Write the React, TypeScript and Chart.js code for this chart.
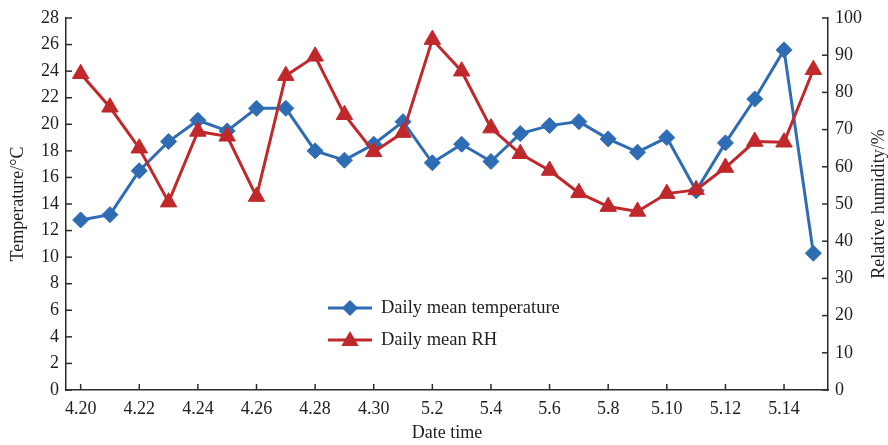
import React, { useEffect, useRef } from "react";
import { Chart, registerables } from "chart.js";

Chart.register(...registerables);

// ---- data ----
const dates = [
  "4.20", "4.21", "4.22", "4.23", "4.24", "4.25", "4.26", "4.27", "4.28", "4.29", "4.30",
  "5.1", "5.2", "5.3", "5.4", "5.5", "5.6", "5.7", "5.8", "5.9", "5.10", "5.11", "5.12", "5.13", "5.14", "5.15",
];
const tempValues = [
  12.8, 13.2, 16.5, 18.7, 20.3, 19.5, 21.2, 21.2, 18.0, 17.3, 18.5,
  20.2, 17.1, 18.5, 17.2, 19.3, 19.9, 20.2, 18.9, 17.9, 19.0, 15.0, 18.6, 21.9, 25.6, 10.3,
];
const rhValues = [
  85, 76, 65, 50.5, 69.5, 68.2, 52, 84.5, 89.7, 74, 64,
  69.2, 94.2, 85.7, 70.4, 63.5, 59, 53, 49.3, 48, 52.8, 53.8, 59.8, 66.8, 66.6, 86.1,
];
const tempTickValues = [0, 2, 4, 6, 8, 10, 12, 14, 16, 18, 20, 22, 24, 26, 28];
const rhTickValues = [0, 10, 20, 30, 40, 50, 60, 70, 80, 90, 100];

const tempLabel = "Daily mean temperature";
const rhLabel = "Daily mean RH";
const xTitle = "Date time";
const yLeftTitle = "Temperature/°C";
const yRightTitle = "Relative humidity/%";

// ---- styles ----
const FONT = "'Liberation Serif', 'Times New Roman', serif";
const TEXT = "#1e1e1e";
const AXIS = "#2b2b2b";
const BLUE = "#2e6db4";
const RED = "#c0282b";

function drawDiamond(ctx: CanvasRenderingContext2D, x: number, y: number, r: number) {
  ctx.beginPath();
  ctx.moveTo(x, y - r);
  ctx.lineTo(x + r, y);
  ctx.lineTo(x, y + r);
  ctx.lineTo(x - r, y);
  ctx.closePath();
  ctx.fill();
}

function drawTriangle(ctx: CanvasRenderingContext2D, x: number, y: number, r: number) {
  ctx.beginPath();
  for (let k = 0; k < 3; k++) {
    const a = (k * 2 * Math.PI) / 3;
    const px = x + Math.sin(a) * r;
    const py = y - Math.cos(a) * r;
    if (k === 0) ctx.moveTo(px, py);
    else ctx.lineTo(px, py);
  }
  ctx.closePath();
  ctx.fill();
}

const decorPlugin = {
  id: "decor",
  afterDraw(chart: any) {
    const { ctx, chartArea: a, scales } = chart;
    ctx.save();
    ctx.strokeStyle = AXIS;
    ctx.lineWidth = 1.5;
    const seg = (x1: number, y1: number, x2: number, y2: number) => {
      ctx.beginPath();
      ctx.moveTo(x1, y1);
      ctx.lineTo(x2, y2);
      ctx.stroke();
    };
    dates.forEach((_, i) => {
      if (i % 2 !== 0 || i === dates.length - 1) return;
      const x = scales.x.getPixelForValue(i);
      seg(x, a.bottom, x, a.bottom - 6);
    });
    tempTickValues.forEach((v) => {
      const y = scales.yT.getPixelForValue(v);
      seg(a.left, y, a.left + 6, y);
    });
    rhTickValues.forEach((v) => {
      const y = scales.yRH.getPixelForValue(v);
      seg(a.right - 6, y, a.right, y);
    });

    // titles
    ctx.fillStyle = TEXT;
    ctx.font = `18px ${FONT}`;
    ctx.textAlign = "center";
    ctx.textBaseline = "middle";
    const cy = (a.top + a.bottom) / 2;
    ctx.save();
    ctx.translate(18, cy);
    ctx.rotate(-Math.PI / 2);
    ctx.fillText(yLeftTitle, 0, 0);
    ctx.restore();
    ctx.save();
    ctx.translate(879, cy);
    ctx.rotate(-Math.PI / 2);
    ctx.fillText(yRightTitle, 0, 0);
    ctx.restore();
    ctx.fillText(xTitle, (a.left + a.right) / 2, 433);

    // legend
    const items = [
      { label: tempLabel, color: BLUE, shape: "diamond", y: 308 },
      { label: rhLabel, color: RED, shape: "triangle", y: 340 },
    ];
    items.forEach((it) => {
      ctx.strokeStyle = it.color;
      ctx.fillStyle = it.color;
      ctx.lineWidth = 3;
      seg(328, it.y, 372, it.y);
      if (it.shape === "diamond") drawDiamond(ctx, 350, it.y, 8);
      else drawTriangle(ctx, 350, it.y + 1, 10);
      ctx.fillStyle = TEXT;
      ctx.textAlign = "left";
      ctx.font = `18.5px ${FONT}`;
      ctx.fillText(it.label, 381, it.y);
    });
    ctx.restore();
  },
};

export default function App() {
  const ref = useRef<HTMLCanvasElement | null>(null);

  useEffect(() => {
    if (!ref.current) return;
    const tickFont = { family: FONT, size: 18 };
    const chart = new Chart(ref.current, {
      type: "line",
      data: {
        labels: dates,
        datasets: [
          {
            label: tempLabel,
            data: tempValues,
            yAxisID: "yT",
            borderColor: BLUE,
            backgroundColor: BLUE,
            borderWidth: 3,
            pointStyle: "rectRot",
            pointRadius: 8,
            pointBorderWidth: 1,
            pointBackgroundColor: BLUE,
            pointBorderColor: BLUE,
            tension: 0,
            order: 1,
          },
          {
            label: rhLabel,
            data: rhValues,
            yAxisID: "yRH",
            borderColor: RED,
            backgroundColor: RED,
            borderWidth: 3,
            pointStyle: "triangle",
            pointRadius: 9.5,
            pointBorderWidth: 1,
            pointBackgroundColor: RED,
            pointBorderColor: RED,
            tension: 0,
            order: 0,
          },
        ],
      },
      options: {
        animation: false,
        responsive: false,
        layout: { padding: { top: 18, left: 0, right: 0, bottom: 0 } },
        plugins: {
          legend: { display: false },
          tooltip: { enabled: false },
          title: { display: false },
        },
        scales: {
          x: {
            type: "category",
            offset: true,
            grid: { display: false, drawTicks: false },
            border: { display: true, color: AXIS, width: 1.5 },
            ticks: {
              autoSkip: false,
              maxRotation: 0,
              minRotation: 0,
              padding: 8,
              color: TEXT,
              font: tickFont,
              callback: (_v: any, i: number) =>
                i % 2 === 0 && i < dates.length - 1 ? dates[i] : "",
            },
            afterFit: (s: any) => {
              s.height = 55;
            },
          },
          yT: {
            type: "linear",
            position: "left",
            min: tempTickValues[0],
            max: tempTickValues[tempTickValues.length - 1],
            grid: { display: false, drawTicks: false },
            border: { display: true, color: AXIS, width: 1.5 },
            ticks: {
              stepSize: tempTickValues[1] - tempTickValues[0],
              padding: 7,
              color: TEXT,
              font: tickFont,
            },
            afterFit: (s: any) => {
              s.width = 66;
            },
          },
          yRH: {
            type: "linear",
            position: "right",
            min: rhTickValues[0],
            max: rhTickValues[rhTickValues.length - 1],
            grid: { display: false, drawTicks: false },
            border: { display: true, color: AXIS, width: 1.5 },
            ticks: {
              stepSize: rhTickValues[1] - rhTickValues[0],
              padding: 7,
              color: TEXT,
              font: tickFont,
            },
            afterFit: (s: any) => {
              s.width = 60;
            },
          },
        },
      },
      plugins: [decorPlugin],
    } as any);
    return () => chart.destroy();
  }, []);

  return (
    <div style={{ position: "absolute", left: 0, top: 0, width: 888, height: 445, background: "#fff" }}>
      <canvas ref={ref} width={888} height={445} style={{ width: 888, height: 445 }} />
    </div>
  );
}
